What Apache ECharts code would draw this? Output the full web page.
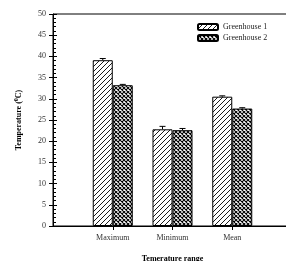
<!DOCTYPE html>
<html>
<head>
<meta charset="utf-8">
<script src="https://cdn.jsdelivr.net/npm/echarts@6/dist/echarts.min.js"></script>
<style>
  html, body { margin: 0; padding: 0; background: #fff; }
  #chart { width: 286px; height: 261px; }
</style>
</head>
<body>
<div id="chart"></div>
<script>
  // data
  const categories = ['', 'Maximum', 'Minimum', 'Mean', '']
  const greenhouse1 = [null, 39.1, 22.8, 30.5, null]
  const greenhouse2 = [null, 33.2, 22.6, 27.7, null]
  const err1 = [0, 0.4, 0.7, 0.2, 0]
  const err2 = [0, 0.2, 0.4, 0.2, 0]
  const seriesNames = ['Greenhouse 1', 'Greenhouse 2']

  const serif = '"Liberation Serif", "DejaVu Serif", serif'

  function hatch() {
    const c = document.createElement('canvas')
    c.width = 5; c.height = 5
    const g = c.getContext('2d')
    g.fillStyle = '#fff'
    g.fillRect(0, 0, 5, 5)
    g.strokeStyle = '#000'
    g.lineWidth = 0.9
    g.beginPath()
    g.moveTo(-1, 6); g.lineTo(6, -1)
    g.moveTo(-1, 1); g.lineTo(1, -1)
    g.moveTo(4, 6); g.lineTo(6, 4)
    g.stroke()
    return c
  }

  function cross() {
    const c = document.createElement('canvas')
    c.width = 4; c.height = 4
    const g = c.getContext('2d')
    g.fillStyle = '#fff'
    g.fillRect(0, 0, 4, 4)
    g.strokeStyle = '#000'
    g.lineWidth = 1.1
    g.beginPath()
    g.moveTo(-1, -1); g.lineTo(5, 5)
    g.moveTo(5, -1); g.lineTo(-1, 5)
    g.stroke()
    return c
  }

  const barW = 20
  function errorSeries(vals, errs, side) {
    return {
      type: 'custom',
      silent: true,
      z: 5,
      data: vals.map((v, i) => [i, v, errs[i]]).filter(d => d[1] != null),
      renderItem: (params, api) => {
        const i = api.value(0)
        const v = api.value(1)
        const e = api.value(2)
        const hi = api.coord([i, v + e])
        const lo = api.coord([i, v])
        const x = hi[0] + side * barW / 2
        const cap = 3
        return {
          type: 'group',
          children: [
            { type: 'line', shape: { x1: x, y1: hi[1], x2: x, y2: lo[1] }, style: { stroke: '#000', lineWidth: 1 } },
            { type: 'line', shape: { x1: x - cap, y1: hi[1], x2: x + cap, y2: hi[1] }, style: { stroke: '#000', lineWidth: 1 } }
          ]
        }
      }
    }
  }

  const chart = echarts.init(document.getElementById('chart'))
  chart.setOption({
    animation: false,
    textStyle: { fontFamily: serif },
    grid: {
      left: 53, right: -6, top: 14, bottom: 35,
      outerBoundsMode: 'none',
      show: true, borderColor: '#000', borderWidth: 1
    },
    legend: {
      left: 192,
      top: 18,
      orient: 'vertical',
      itemWidth: 20,
      itemHeight: 6,
      itemGap: 3,
      data: seriesNames,
      textStyle: { fontFamily: serif, fontSize: 8, color: '#222' }
    },
    xAxis: {
      type: 'category',
      data: categories,
      boundaryGap: false,
      axisLine: { lineStyle: { color: '#000' } },
      axisTick: { length: 4, interval: (i) => i > 0 && i < 4, lineStyle: { color: '#000' } },
      axisLabel: { fontFamily: serif, fontSize: 8, color: '#333', margin: 8 },
      splitLine: { show: false },
      name: 'Temerature range',
      nameLocation: 'middle',
      nameGap: 29,
      nameTextStyle: { fontFamily: serif, fontSize: 8, fontWeight: 'bold', color: '#000' }
    },
    yAxis: [
      {
        type: 'value',
        min: 0,
        max: 50,
        interval: 5,
        axisLine: { show: true, lineStyle: { color: '#000' } },
        axisTick: { show: true, length: 4, lineStyle: { color: '#000' } },
        axisLabel: { fontFamily: serif, fontSize: 8, color: '#333', margin: 7 },
        splitLine: { show: false },
        name: 'Temperature ({s|0}C)',
        nameLocation: 'middle',
        nameRotate: 90,
        nameGap: 29,
        nameTextStyle: {
          fontFamily: serif, fontSize: 8, fontWeight: 'bold', color: '#000',
          rich: { s: { fontFamily: serif, fontSize: 6, fontWeight: 'bold', verticalAlign: 'top', padding: [0, 0, 5, 0] } }
        }
      },
      {
        type: 'value',
        position: 'left',
        min: 0,
        max: 50,
        interval: 5,
        axisLine: { show: false },
        axisTick: { show: true, inside: true, length: 4, lineStyle: { color: '#000' } },
        minorTick: { show: true, splitNumber: 5, length: 3, lineStyle: { color: '#000' } },
        axisLabel: { show: false },
        splitLine: { show: false }
      }
    ],
    series: [
      {
        name: seriesNames[0],
        type: 'bar',
        data: greenhouse1,
        barWidth: barW,
        barGap: '0%',
        itemStyle: { color: { image: hatch(), repeat: 'repeat' }, borderColor: '#000', borderWidth: 1 }
      },
      {
        name: seriesNames[1],
        type: 'bar',
        data: greenhouse2,
        barWidth: barW,
        barGap: '0%',
        itemStyle: { color: { image: cross(), repeat: 'repeat' }, borderColor: '#000', borderWidth: 1 }
      },
      errorSeries(greenhouse1, err1, -1),
      errorSeries(greenhouse2, err2, 1)
    ]
  })
</script>
</body>
</html>
